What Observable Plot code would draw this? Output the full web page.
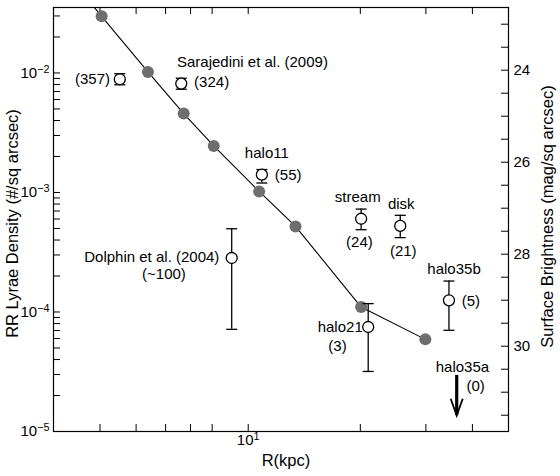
<!DOCTYPE html>
<html><head><meta charset="utf-8">
<script src="https://cdn.jsdelivr.net/npm/d3@7"></script>
<script src="https://cdn.jsdelivr.net/npm/@observablehq/plot@0.6"></script>
<style>body{margin:0;background:#fff}#chart svg{display:block}</style>
</head><body><div id="chart"></div>
<script>
// Model profile (filled grey points) and the line through them
const modelR = [4.04, 5.38, 6.71, 8.08, 10.7, 13.4, 20.1, 29.9];
const modelDensity = [0.0298, 0.0102, 0.00457, 0.00245, 0.00102, 0.00052, 0.000110, 0.000059];
const lineR = [3.5, 4.04, 5.38, 6.71, 8.08, 10.7, 13.4, 20.1, 29.9];
const lineDensity = [0.051, 0.0298, 0.0102, 0.00457, 0.00245, 0.00102, 0.00052, 0.000110, 0.000059];

// Observed fields (open circles with error bars)
const obsName = ["Sarajedini (357)", "Sarajedini (324)", "halo11", "Dolphin", "stream", "disk", "halo21", "halo35b"];
const obsR = [4.52, 6.61, 10.88, 9.03, 20.1, 25.6, 21.0, 34.6];
const obsDensity = [0.00886, 0.00815, 0.00141, 0.000283, 0.000603, 0.000525, 0.0000749, 0.0001253];
const obsLow = [0.00797, 0.00731, 0.00120, 0.0000716, 0.000488, 0.000419, 0.0000318, 0.0000703];
const obsHigh = [0.00985, 0.00903, 0.001556, 0.000497, 0.000726, 0.000644, 0.0001175, 0.0001815];

// Upper limit (halo35a)
const limitR = [36.3];
const limitFrom = [0.0000295];
const limitTo = [0.0000136];

// Annotations
const annText = ["(357)", "Sarajedini et al. (2009)", "(324)", "halo11", "(55)", "stream", "(24)", "disk", "(21)",
  "Dolphin et al. (2004)", "(~100)", "halo35b", "(5)", "halo21", "(3)", "halo35a", "(0)"];
const annR = [4.255, 6.437, 7.157, 11.22, 11.79, 19.68, 19.89, 25.76, 26.08, 8.365, 5.94, 35.7, 37.44, 17.66, 17.37, 37.6, 40.8];
const annDensity = [0.008857, 0.01236, 0.008361, 0.002128, 0.001393, 0.000917, 0.0003853, 0.000796, 0.000324,
  0.000287, 0.0002067, 0.0002276, 0.0001236, 0.0000745, 0.0000516, 0.00003445, 0.0000239];
const annAnchor = ["end", "start", "start", "middle", "start", "middle", "middle", "middle", "middle",
  "end", "middle", "middle", "start", "middle", "middle", "middle", "middle"];

// Axis ticks
const yMajor = [1e-5, 1e-4, 1e-3, 1e-2];
const yMajorLabels = ["10⁻⁵", "10⁻⁴", "10⁻³", "10⁻²"];
const yMinor = [2e-5, 3e-5, 4e-5, 5e-5, 6e-5, 7e-5, 8e-5, 9e-5,
  2e-4, 3e-4, 4e-4, 5e-4, 6e-4, 7e-4, 8e-4, 9e-4,
  2e-3, 3e-3, 4e-3, 5e-3, 6e-3, 7e-3, 8e-3, 9e-3, 2e-2, 3e-2];
const xTicks = [4, 5, 6, 7, 8, 10, 20, 30, 40];
const xLabelValues = [10];
const xLabels = ["10¹"];
const magMajor = [24, 26, 28, 30];
const magMinor = [23, 23.5, 24, 24.5, 25, 25.5, 26, 26.5, 27, 27.5, 28, 28.5, 29, 29.5, 30, 30.5, 31, 31.5];
// right axis: surface brightness is linear in log density
const MAG_ZERO = 18.864, MAG_PER_DEX = 2.598;
const magToDensity = m => Math.pow(10, (MAG_ZERO - m) / MAG_PER_DEX);

const model = modelR.map((r, i) => ({r, d: modelDensity[i]}));
const line = lineR.map((r, i) => ({r, d: lineDensity[i]}));
const obs = obsR.map((r, i) => ({name: obsName[i], r, d: obsDensity[i], lo: obsLow[i], hi: obsHigh[i]}));
const caps = obs.flatMap(o => [{r: o.r, d: o.lo}, {r: o.r, d: o.hi}]);
const limits = limitR.map((r, i) => ({r, d1: limitFrom[i], d2: limitTo[i]}));
const ann = annText.map((t, i) => ({t, r: annR[i], d: annDensity[i], a: annAnchor[i]}));

const capSymbol = {draw(ctx, size) { const w = Math.sqrt(size / Math.PI); ctx.moveTo(-w, 0); ctx.lineTo(w, 0); }};
const vHead = {draw(ctx, size) { const w = Math.sqrt(size / Math.PI); ctx.moveTo(-w, -2.8 * w); ctx.lineTo(0, 0); ctx.lineTo(w, -2.8 * w); }};

const W = 560, H = 476, ML = 53, MR = 52, MT = 7, MB = 45;
const FW = W - ML - MR, FH = H - MT - MB, TL = 7;
const font = "'Liberation Sans', Arial, Helvetica, sans-serif";

const chart = Plot.plot({
  width: W, height: H,
  marginLeft: ML, marginRight: MR, marginTop: MT, marginBottom: MB,
  x: {type: "log", domain: [3, 50], axis: null},
  y: {type: "log", domain: [1e-5, 0.0353], axis: null},
  style: {fontFamily: font, fontSize: "15px", background: "white", color: "black"},
  marks: [
    // ticks (inward)
    Plot.tickY([...yMajor, ...yMinor], {y: d => d, insetRight: FW - TL, stroke: "black"}),
    Plot.tickY(magMinor, {y: m => magToDensity(m), insetLeft: FW - TL, stroke: "black"}),
    Plot.tickX(xTicks, {x: d => d, insetTop: FH - TL, stroke: "black"}),
    Plot.tickX(xTicks, {x: d => d, insetBottom: FH - TL, stroke: "black"}),
    // tick labels
    Plot.text(yMajor, {y: d => d, text: (d, i) => yMajorLabels[i], frameAnchor: "left", textAnchor: "end", dx: -4, fontSize: 15}),
    Plot.text(magMajor, {y: m => magToDensity(m), text: m => String(m), frameAnchor: "right", textAnchor: "start", dx: 5, fontSize: 15}),
    Plot.text(xLabelValues, {x: d => d, text: (d, i) => xLabels[i], frameAnchor: "bottom", textAnchor: "middle", dy: 13, fontSize: 15}),
    // axis titles
    Plot.text(["R(kpc)"], {frameAnchor: "bottom", textAnchor: "middle", dx: 5, dy: 34, fontSize: 16.5}),
    Plot.text(["RR Lyrae Density (#/sq arcsec)"], {frameAnchor: "left", textAnchor: "middle", rotate: -90, dx: -41, dy: 4, fontSize: 16.5}),
    Plot.text(["Surface Brightness (mag/sq arcsec)"], {frameAnchor: "right", textAnchor: "middle", rotate: -90, dx: 39, dy: -3, fontSize: 16.5}),
    // model line and points
    Plot.line(line, {x: "r", y: "d", stroke: "black", strokeWidth: 1.1, clip: true}),
    Plot.dot(model, {x: "r", y: "d", r: 6, fill: "#6e6e6e", stroke: "none"}),
    // error bars
    Plot.ruleX(obs, {x: "r", y1: "lo", y2: "hi", stroke: "black", strokeWidth: 1.3}),
    Plot.dot(caps, {x: "r", y: "d", symbol: capSymbol, r: 5.5, stroke: "black", fill: "none", strokeWidth: 1.3}),
    Plot.dot(obs, {x: "r", y: "d", r: 5.5, fill: "white", stroke: "black", strokeWidth: 1.3}),
    // upper limit arrow (thick shaft, open V head)
    Plot.ruleX(limits, {x: "r", y1: "d1", y2: "d2", stroke: "black", strokeWidth: 3.2}),
    Plot.dot(limits, {x: "r", y: "d2", symbol: vHead, r: 6, stroke: "black", fill: "none", strokeWidth: 1.8}),
    // annotations
    Plot.text(ann.filter(a => a.a === "start"), {x: "r", y: "d", text: "t", textAnchor: "start", fontSize: 15}),
    Plot.text(ann.filter(a => a.a === "end"), {x: "r", y: "d", text: "t", textAnchor: "end", fontSize: 15}),
    Plot.text(ann.filter(a => a.a === "middle"), {x: "r", y: "d", text: "t", textAnchor: "middle", fontSize: 15}),
    Plot.frame({stroke: "black", strokeWidth: 1.2})
  ]
});
document.getElementById("chart").appendChild(chart);

// render exponents as raised tspans
const supMap = {"⁻": "−", "⁰": "0", "¹": "1", "²": "2", "³": "3", "⁴": "4", "⁵": "5"};
chart.querySelectorAll("text").forEach(t => {
  const m = /^10([⁻⁰¹²³⁴⁵]+)$/.exec(t.textContent);
  if (!m) return;
  const exp = [...m[1]].map(c => supMap[c]).join("");
  t.textContent = "10";
  const ts = document.createElementNS("http://www.w3.org/2000/svg", "tspan");
  ts.setAttribute("dy", "-0.45em");
  ts.setAttribute("font-size", "0.72em");
  ts.textContent = exp;
  t.appendChild(ts);
});
</script>
</body></html>
